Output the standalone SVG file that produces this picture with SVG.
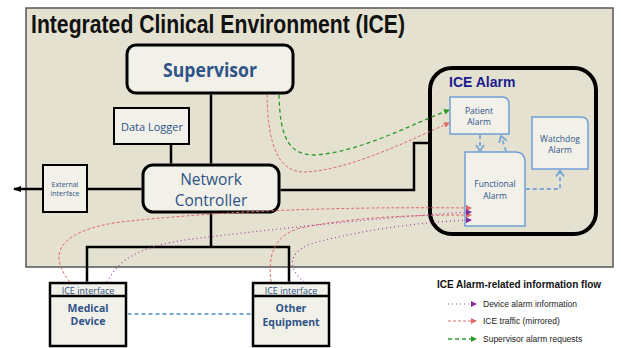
<svg xmlns="http://www.w3.org/2000/svg" width="621" height="348" viewBox="0 0 621 348">
<style>
.box{fill:#f1f1e9;stroke:#000;}
.abox{fill:#f1f1e9;stroke:#6f9fd3;stroke-width:1.5;}
.blue{fill:#2f5387;font-family:"Open Sans","Liberation Sans",sans-serif;}
.wire{stroke:#000;stroke-width:2.5;fill:none;}
.bdash{stroke:#7ba7d6;stroke-width:1.8;stroke-dasharray:4,3;fill:none;}
.red{stroke:#e06a6a;stroke-width:1;stroke-dasharray:3,2;fill:none;}
.pur{stroke:#a040a8;stroke-width:1.2;stroke-dasharray:1,3;fill:none;}
.grn{stroke:#2c9a2c;stroke-width:1.3;stroke-dasharray:4,3;fill:none;}
.leg{font-family:"Liberation Sans",Arial,sans-serif;font-size:8.5px;fill:#222;}
</style>
<defs>
<marker id="ar" markerWidth="6" markerHeight="6" refX="5" refY="3" orient="auto" markerUnits="userSpaceOnUse"><path d="M0,0 L6,3 L0,6z" fill="#e06a6a"/></marker>
<marker id="ap" markerWidth="6" markerHeight="6" refX="5" refY="3" orient="auto" markerUnits="userSpaceOnUse"><path d="M0,0 L6,3 L0,6z" fill="#8a2a96"/></marker>
<marker id="ag" markerWidth="6" markerHeight="6" refX="5" refY="3" orient="auto" markerUnits="userSpaceOnUse"><path d="M0,0 L6,3 L0,6z" fill="#2c9a2c"/></marker>
<marker id="ab" markerWidth="10" markerHeight="10" refX="7" refY="5" orient="auto" markerUnits="userSpaceOnUse"><path d="M1,1 L7,5 L1,9" fill="none" stroke="#7ba7d6" stroke-width="1.8"/></marker>
<marker id="ak" markerWidth="8" markerHeight="8" refX="7" refY="4" orient="auto" markerUnits="userSpaceOnUse"><path d="M0,1 L8,4 L0,7z" fill="#000"/></marker>
</defs>

<g id="ice-environment">
<rect x="26" y="8" width="587" height="259" fill="#e4e1d0" stroke="#555" stroke-width="1.5"/>
<text x="31" y="33" font-family="'Liberation Sans',Arial,sans-serif" font-weight="bold" font-size="25" fill="#111" textLength="374" lengthAdjust="spacingAndGlyphs">Integrated Clinical Environment (ICE)</text>
</g>

<g id="ice-alarm">
<rect x="430" y="68" width="166" height="166" rx="22" fill="#e4e1d0" stroke="#000" stroke-width="4"/>
<text x="449" y="87" font-family="'Liberation Sans',Arial,sans-serif" font-weight="bold" font-size="14" fill="#1c1c8e">ICE Alarm</text>
</g>

<g id="supervisor">
<rect class="box" x="127" y="45" width="166" height="48" rx="9" stroke-width="3"/>
<text class="blue" x="210" y="77" font-size="19" font-weight="bold" text-anchor="middle" textLength="94" lengthAdjust="spacingAndGlyphs">Supervisor</text>
</g>

<g id="data-logger">
<rect class="box" x="114" y="108" width="75" height="36" stroke-width="2"/>
<text class="blue" x="152" y="131" font-size="11" text-anchor="middle" font-family="'Liberation Sans',Arial,sans-serif">Data Logger</text>
</g>

<g id="network-controller">
<rect class="box" x="143" y="165" width="136" height="47" rx="10" stroke-width="3"/>
<text class="blue" x="211" y="185" font-size="15.5" text-anchor="middle">Network</text>
<text class="blue" x="211" y="206" font-size="15.5" text-anchor="middle">Controller</text>
</g>

<g id="external-interface">
<rect class="box" x="43" y="165" width="44" height="47" stroke-width="2"/>
<text class="blue" x="65" y="187" font-size="7" text-anchor="middle">External</text>
<text class="blue" x="65" y="196" font-size="7" text-anchor="middle">interface</text>
</g>

<g id="patient-alarm">
<path class="abox" d="M450,97 H502 Q509,97 509,104 V134 H450 Z"/>
<text class="blue" x="479" y="114" font-size="8.5" text-anchor="middle">Patient</text>
<text class="blue" x="479" y="125" font-size="8.5" text-anchor="middle">Alarm</text>
</g>

<g id="watchdog-alarm">
<path class="abox" d="M532,117 H581 Q588,117 588,124 V169 H532 Z"/>
<text class="blue" x="560" y="142" font-size="8.5" text-anchor="middle">Watchdog</text>
<text class="blue" x="560" y="153" font-size="8.5" text-anchor="middle">Alarm</text>
</g>

<g id="functional-alarm">
<path class="abox" d="M465,152 H515 Q525,152 525,162 V226 H465 Z"/>
<text class="blue" x="495" y="187" font-size="8.5" text-anchor="middle">Functional</text>
<text class="blue" x="495" y="199" font-size="8.5" text-anchor="middle">Alarm</text>
</g>

<g id="medical-device">
<rect class="box" x="50" y="283" width="76" height="63" stroke-width="2.5"/>
<line x1="50" y1="296" x2="126" y2="296" stroke="#000" stroke-width="2.5"/>
<text class="blue" x="88" y="293.5" font-size="9" text-anchor="middle">ICE interface</text>
<text class="blue" x="88" y="312" font-size="10.5" font-weight="bold" text-anchor="middle" font-family="'Liberation Sans',Arial,sans-serif">Medical</text>
<text class="blue" x="88" y="325" font-size="10.5" font-weight="bold" text-anchor="middle" font-family="'Liberation Sans',Arial,sans-serif">Device</text>
</g>

<g id="other-equipment">
<rect class="box" x="253" y="283" width="76" height="63" stroke-width="2.5"/>
<line x1="253" y1="296" x2="329" y2="296" stroke="#000" stroke-width="2.5"/>
<text class="blue" x="291" y="293.5" font-size="9" text-anchor="middle">ICE interface</text>
<text class="blue" x="291" y="312" font-size="10.5" font-weight="bold" text-anchor="middle" font-family="'Liberation Sans',Arial,sans-serif">Other</text>
<text class="blue" x="291" y="326" font-size="10.5" font-weight="bold" text-anchor="middle" font-family="'Liberation Sans',Arial,sans-serif">Equipment</text>
</g>

<g id="connectors">
<path class="wire" d="M211,94.5 V163.5"/>
<path class="wire" d="M171,145 V163.5"/>
<path class="wire" d="M88,189 H141.5"/>
<path class="wire" d="M42,189 H14" marker-end="url(#ak)" stroke-width="1.5"/>
<path class="wire" d="M280.5,190 H414 V143 H428"/>
<path class="wire" d="M211,213.5 V247 M87,281.8 V247 H289 V281.8"/>
<path class="bdash" d="M127.5,314 H251.5"/>
<path class="bdash" d="M480,135 V151" marker-end="url(#ab)"/>
<path class="bdash" d="M506,151 L501,136" marker-end="url(#ab)"/>
<path class="bdash" d="M525.8,189 H560 V170.5" marker-end="url(#ab)"/>
<path class="grn" d="M279,94.5 C280,140 290,155 315,155 C360,152 410,125 449,110" marker-end="url(#ag)"/>
<path class="red" d="M267,94.5 C268,150 280,172 305,172 C350,170 410,140 449,123" marker-end="url(#ar)"/>
<path class="red" d="M70,282 C50,258 52,232 120,222 C250,208 380,207 471,208" marker-end="url(#ar)"/>
<path class="red" d="M271,282 C268,258 272,236 300,228 C360,216 420,215 471,215" marker-end="url(#ar)"/>
<path class="pur" d="M107,282 C120,258 140,245 200,238 C300,226 400,216 471,212" marker-end="url(#ap)"/>
<path class="pur" d="M304,282 C290,270 285,255 310,244 C360,230 420,222 471,220" marker-end="url(#ap)"/>
</g>

<g id="legend">
<text x="437" y="288" font-family="'Liberation Sans',Arial,sans-serif" font-weight="bold" font-size="10" fill="#111">ICE Alarm-related information flow</text>
<path class="pur" d="M448,304 H476" marker-end="url(#ap)"/>
<text class="leg" x="483" y="307">Device alarm information</text>
<path class="red" d="M448,321 H476" marker-end="url(#ar)"/>
<text class="leg" x="483" y="324">ICE traffic (mirrored)</text>
<path class="grn" d="M448,339 H476" marker-end="url(#ag)" stroke-dasharray="5,3"/>
<text class="leg" x="483" y="342">Supervisor alarm requests</text>
</g>
</svg>
